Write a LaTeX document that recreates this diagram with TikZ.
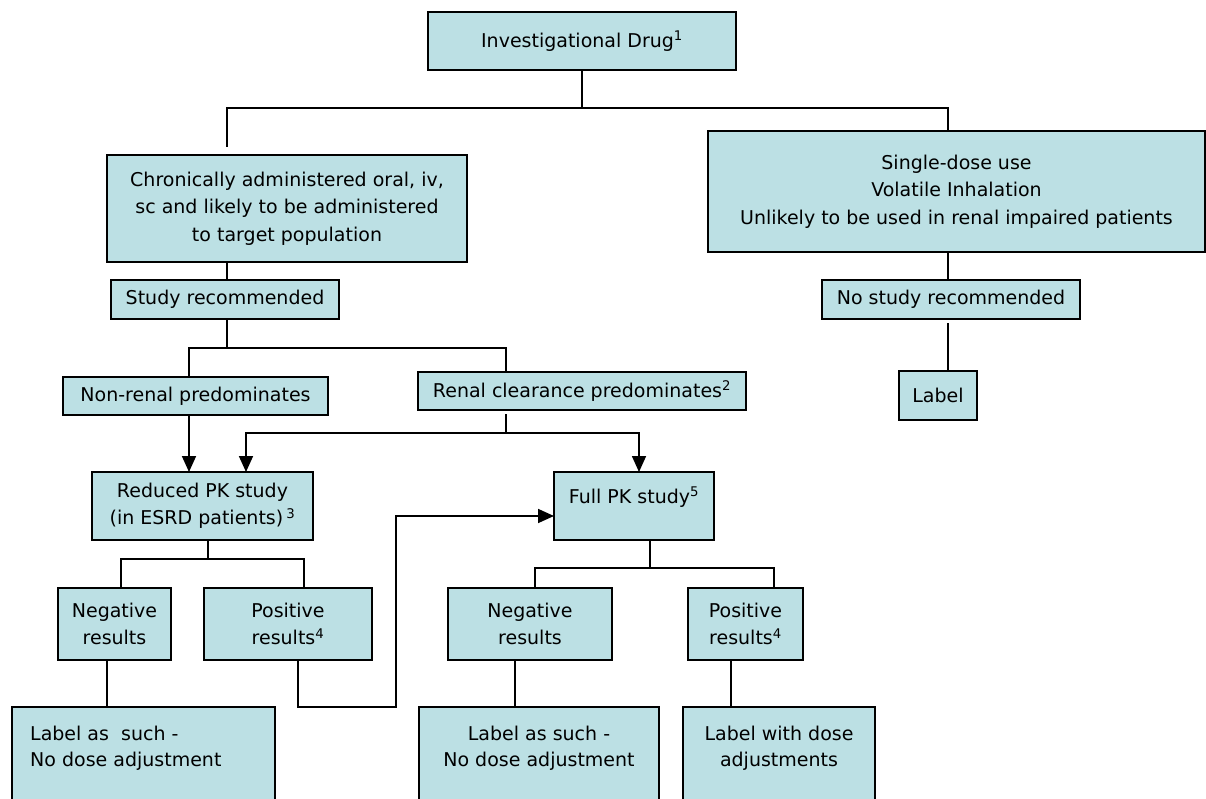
\documentclass[tikz,border=0pt]{standalone}
\usepackage{fontspec}
\setmainfont{DejaVu Sans}
\usetikzlibrary{arrows.meta}
\definecolor{boxfill}{RGB}{188,224,228}
\tikzset{
  box/.style={draw=black, line width=2pt, fill=boxfill, inner sep=0pt, outer sep=0pt, align=center,
    font=\fontsize{19}{27.5}\selectfont},
  txt/.style={inner sep=0pt, font=\fontsize{19}{26}\selectfont},
  conn/.style={draw=black, line width=1.7pt},
  arr/.style={conn, -{Triangle[length=16pt,width=14pt]}}
}
\begin{document}
\begin{tikzpicture}[x=1pt,y=-1pt]
\useasboundingbox (0,0) rectangle (1206,799);
\clip (0,0) rectangle (1206,799);
% boxes
\node[box, minimum width=308, minimum height=58] (inv) at (582,41) {\raisebox{-3pt}{Investigational Drug\textsuperscript{1}}};
\node[box, minimum width=360, minimum height=107] (chron) at (287,208.5) {Chronically administered oral, iv,\\ sc and likely to be administered\\ to target population};
\node[box, minimum width=497, minimum height=121] (single) at (956.5,191.5) {Single-dose use\\ Volatile Inhalation\\ Unlikely to be used in renal impaired patients};
\node[box, minimum width=228, minimum height=39] (studyrec) at (225,299.5) {Study recommended};
\node[box, minimum width=258, minimum height=39] (nostudy) at (951,299.5) {No study recommended};
\node[box, minimum width=78, minimum height=49] (labelR) at (938,395.5) {Label};
\node[box, minimum width=265, minimum height=38] (nonrenal) at (195.5,396) {Non-renal predominates};
\node[box, minimum width=328, minimum height=38] (renal) at (582,391) {Renal clearance predominates\textsuperscript{2}};
\node[box, minimum width=221, minimum height=68] (reduced) at (202.5,506) {Reduced PK study\\ (in ESRD patients)\,\textsuperscript{3}};
\node[box, minimum width=160, minimum height=68] (fullpk) at (634,506) {};
\node[txt] (fullpkt) at (634,497) {Full PK study\textsuperscript{5}};
\node[box, minimum width=113, minimum height=72] (neg1) at (114.5,624) {Negative\\ results};
\node[box, minimum width=168, minimum height=72] (pos1) at (288,624) {Positive\\ results\textsuperscript{4}};
\node[box, minimum width=164, minimum height=72] (neg2) at (530,624) {Negative\\ results};
\node[box, minimum width=115, minimum height=72] (pos2) at (745.5,624) {Positive\\ results\textsuperscript{4}};
\node[box, minimum width=263, minimum height=100] (label1) at (143.5,757) {};
\node[txt, anchor=west, align=left] (label1t) at (30,748) {Label as\ \ such -\\ No dose adjustment};
\node[box, minimum width=240, minimum height=100] (label2) at (539,757) {};
\node[txt, align=center] (label2t) at (539,748) {Label as such -\\ No dose adjustment};
\node[box, minimum width=192, minimum height=100] (label3) at (779,757) {};
\node[txt, align=center] (label3t) at (779,748) {Label with dose\\ adjustments};
% junctions
\coordinate (j1) at (582,108);
\coordinate (c1) at (227,147);
\coordinate (j2) at (227,348);
\coordinate (r1) at (506,414);
\coordinate (j3) at (506,433);
\coordinate (k) at (396,707);
\coordinate (n1) at (948,323);
% connectors
\draw[conn] (inv.south) -- (j1);
\draw[conn] (j1) -| (c1);
\draw[conn] (j1) -| ([xshift=-8.5pt]single.north);
\draw[conn] (c1 |- chron.south) -- (c1 |- studyrec.north);
\draw[conn] (c1 |- studyrec.south) -- (j2);
\draw[conn] (j2) -| ([xshift=-6.5pt]nonrenal.north);
\draw[conn] (j2) -| ([xshift=-76pt]renal.north);
\draw[conn] (r1) -- (j3);
\draw[arr] (j3) -| ([xshift=43.5pt]reduced.north);
\draw[arr] (j3) -| ([xshift=5pt]fullpk.north);
\draw[arr] ([xshift=-6.5pt]nonrenal.south) -- ([xshift=-6.5pt]nonrenal.south |- reduced.north);
\coordinate (j4) at (208,559);
\draw[conn] ([xshift=5.5pt]reduced.south) -- (j4);
\draw[conn] (j4) -| ([xshift=6.5pt]neg1.north);
\draw[conn] (j4) -| ([xshift=16pt]pos1.north);
\coordinate (j5) at (650,568);
\draw[conn] ([xshift=16pt]fullpk.south) -- (j5);
\draw[conn] (j5) -| ([xshift=5pt]neg2.north);
\draw[conn] (j5) -| ([xshift=28.5pt]pos2.north);
\draw[conn] ([xshift=-7.5pt]neg1.south) -- ([xshift=-7.5pt]neg1.south |- label1.north);
\draw[arr] ([xshift=10pt]pos1.south) |- (k) |- ([yshift=-10pt]fullpk.west);
\draw[conn] ([xshift=-15pt]neg2.south) -- ([xshift=-15pt]neg2.south |- label2.north);
\draw[conn] ([xshift=-14.5pt]pos2.south) -- ([xshift=-14.5pt]pos2.south |- label3.north);
\draw[conn] ([xshift=-8.5pt]single.south) -- ([xshift=-8.5pt]single.south |- nostudy.north);
\draw[conn] (n1) -- (n1 |- labelR.north);
\end{tikzpicture}
\end{document}
